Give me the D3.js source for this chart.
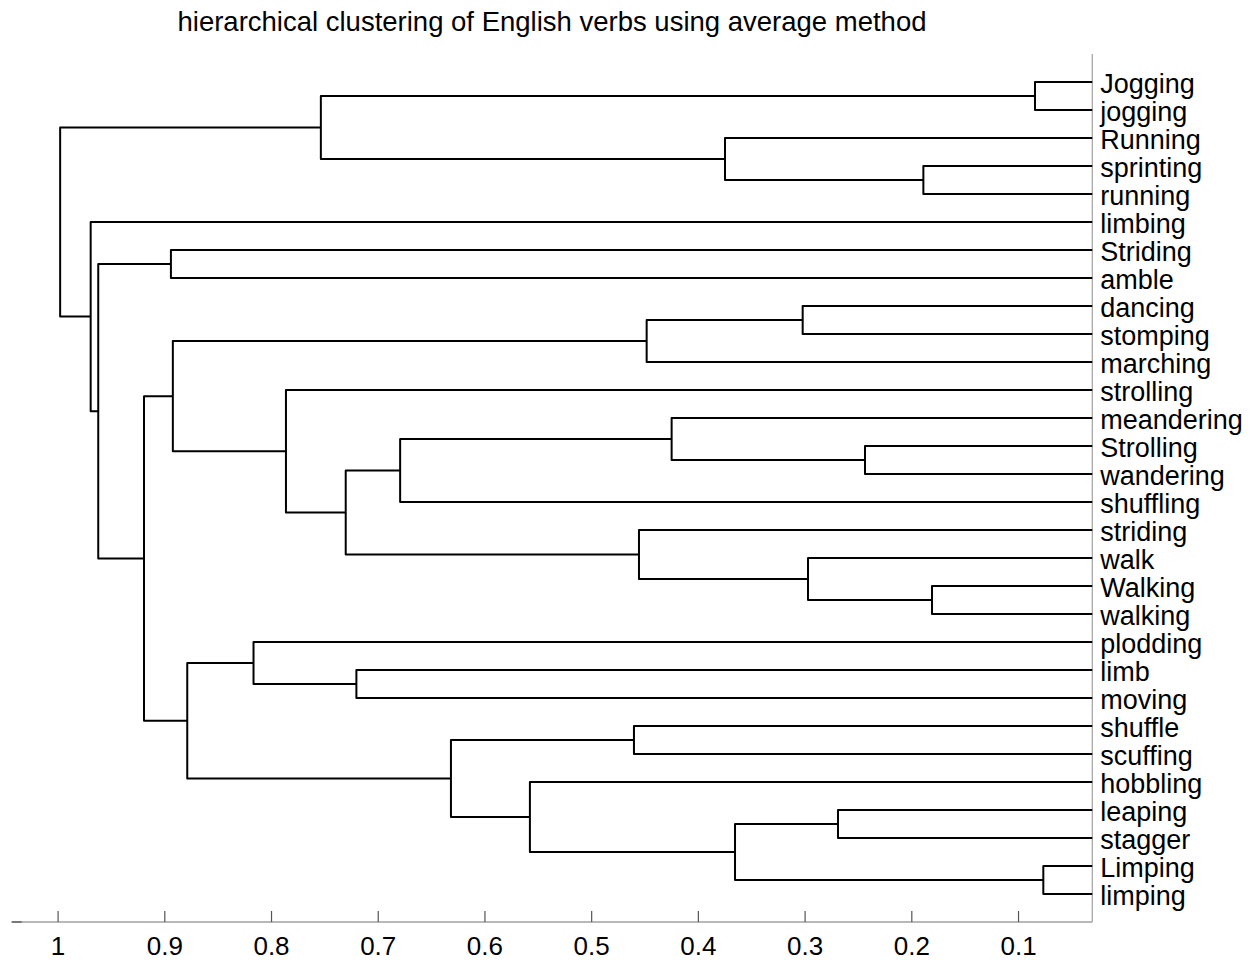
<!DOCTYPE html>
<html>
<head>
<meta charset="utf-8">
<script src="https://cdn.jsdelivr.net/npm/d3@7"></script>
<style>
  html, body { margin: 0; padding: 0; background: #fff; }
  svg { display: block; }
  text { font-family: "Liberation Sans", Arial, Helvetica, sans-serif; fill: #000; }
</style>
</head>
<body>
<svg id="chart" width="1253" height="960"></svg>
<script>
// Leaf labels, listed from top to bottom as they appear
const leaves = [
  "Jogging", "jogging", "Running", "sprinting", "running", "limbing",
  "Striding", "amble", "dancing", "stomping", "marching", "strolling",
  "meandering", "Strolling", "wandering", "shuffling", "striding", "walk",
  "Walking", "walking", "plodding", "limb", "moving", "shuffle", "scuffing",
  "hobbling", "leaping", "stagger", "Limping", "limping"
];

// Linkage: each merge joins two nodes (leaf index 0..29, or cluster 30+ in
// the order defined here) at the given average-linkage distance.
const mergeLeft   = [0, 28, 18, 3, 13, 26, 17, 8, 35, 2, 12, 37, 16, 23, 25, 43, 40, 21, 46, 30, 11, 20, 51, 41, 6, 53, 54, 5, 49];
const mergeRight  = [1, 29, 19, 4, 14, 27, 32, 9, 31, 33, 34, 10, 36, 24, 38, 44, 15, 22, 42, 39, 48, 47, 45, 50, 7, 52, 55, 56, 57];
const mergeHeight = [0.0841, 0.0763, 0.1806, 0.1887, 0.2434, 0.2687, 0.2968, 0.3018, 0.3652, 0.3746,
                     0.4246, 0.448, 0.4552, 0.4599, 0.5574, 0.6314, 0.679, 0.72, 0.730, 0.7533,
                     0.786, 0.8164, 0.8785, 0.892, 0.8938, 0.919, 0.9619, 0.969, 0.9976];

// Axis ticks on the distance axis
const tickValues = [1, 0.9, 0.8, 0.7, 0.6, 0.5, 0.4, 0.3, 0.2, 0.1];
const titleText = "hierarchical clustering of English verbs using average method";

const svg = d3.select("#chart");
const plot = { left: 11.7, right: 1092.3, top: 54, bottom: 922 };

// Distance runs right-to-left; leaf positions run 1..n from the bottom
const x = d3.scaleLinear().domain([1.043, 0.0304]).range([plot.left, plot.right]);
const y = d3.scaleLinear().domain([0, leaves.length + 1]).range([plot.bottom, plot.top]);

// Node positions: leaves at distance 0, clusters at the mean of their children
const nodeH = leaves.map(() => 0);
const nodeY = leaves.map((_, i) => leaves.length - i);
mergeHeight.forEach((h, k) => {
  nodeH.push(h);
  nodeY.push((nodeY[mergeLeft[k]] + nodeY[mergeRight[k]]) / 2);
});

svg.append("defs").append("clipPath").attr("id", "plotClip")
  .append("rect")
  .attr("x", plot.left).attr("y", plot.top)
  .attr("width", plot.right - plot.left).attr("height", plot.bottom - plot.top);

// Title
svg.append("text")
  .attr("x", (plot.left + plot.right) / 2)
  .attr("y", 31)
  .attr("text-anchor", "middle")
  .style("font-size", "27.5px")
  .text(titleText);

// Right-hand axis line carrying the leaf labels
svg.append("line")
  .attr("x1", plot.right).attr("x2", plot.right)
  .attr("y1", plot.top).attr("y2", plot.bottom)
  .attr("stroke", "#a8a8a8").attr("stroke-width", 1.3);

// Bottom distance axis
const xAxis = d3.axisBottom(x)
  .tickValues(tickValues)
  .tickSizeInner(-11)
  .tickSizeOuter(0)
  .tickFormat(d => d === 1 ? "1" : d3.format(".1f")(d));

const ax = svg.append("g")
  .attr("transform", `translate(0,${plot.bottom})`)
  .call(xAxis);
ax.select(".domain")
  .attr("d", `M${plot.left},0H${plot.right}`)
  .attr("stroke", "#a0a0a0").attr("stroke-width", 1.3);
ax.selectAll(".tick line").attr("stroke", "#555").attr("stroke-width", 1.2);
ax.selectAll(".tick text")
  .attr("y", 32.5).attr("dy", null)
  .style("font-size", "26px")
  .style("font-family", "'Liberation Sans', Arial, sans-serif")
  .attr("fill", "#000");
svg.append("line")
  .attr("x1", plot.left).attr("x2", plot.left + 10)
  .attr("y1", plot.bottom).attr("y2", plot.bottom)
  .attr("stroke", "#555").attr("stroke-width", 1.3);

// Dendrogram links: one U-shaped polyline per merge
const links = svg.append("g").attr("clip-path", "url(#plotClip)");
mergeHeight.forEach((h, k) => {
  const a = mergeLeft[k], b = mergeRight[k];
  const p = d3.path();
  p.moveTo(x(nodeH[a]), y(nodeY[a]));
  p.lineTo(x(h), y(nodeY[a]));
  p.lineTo(x(h), y(nodeY[b]));
  p.lineTo(x(nodeH[b]), y(nodeY[b]));
  links.append("path")
    .attr("d", p.toString())
    .attr("fill", "none")
    .attr("stroke", "#000")
    .attr("stroke-width", 2)
    .attr("stroke-linejoin", "round");
});

// Leaf labels
svg.append("g").selectAll("text")
  .data(leaves)
  .join("text")
  .attr("x", plot.right + 8)
  .attr("y", (d, i) => y(nodeY[i]) + 10.5)
  .style("font-size", "27px")
  .text(d => d);
</script>
</body>
</html>
